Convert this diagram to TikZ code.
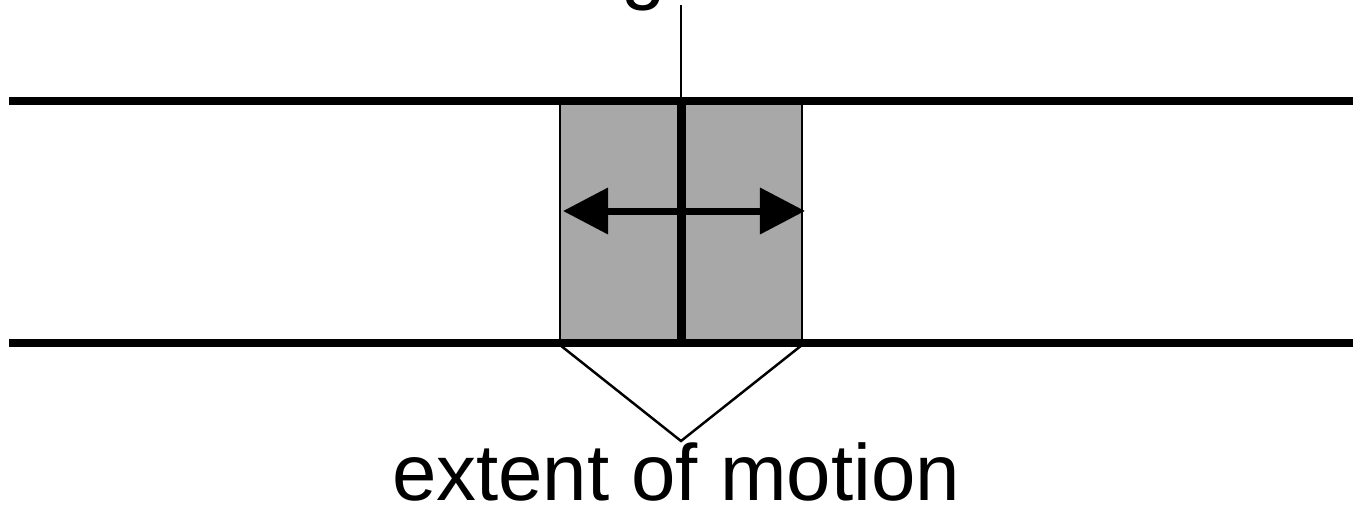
\documentclass[tikz,border=0pt]{standalone}
\usepackage{fontspec}
\setmainfont{Liberation Sans}
\usetikzlibrary{arrows.meta}
\definecolor{slidegray}{RGB}{168, 168, 168}

\begin{document}
\begin{tikzpicture}[
    x=0.01cm, y=-0.01cm,
    rail/.style={line width=0.08cm, line cap=butt},
    slider/.style={draw=black, line width=0.6pt, fill=slidegray},
    stem/.style={line width=0.09cm},
    thin/.style={line width=0.7pt},
    motion/.style={{Triangle[length=0.45cm,width=0.45cm]}-{Triangle[length=0.45cm,width=0.45cm]}, line width=0.07cm},
    label/.style={font=\fontsize{22.7pt}{27pt}\selectfont, inner sep=0pt}
  ]
    \useasboundingbox (0,0) rectangle (1361,512);

    % block between the rails
    \node[slider, minimum width=2.42cm, minimum height=2.43cm, inner sep=0pt] (block) at (681,221.5) {};
    \coordinate (stemtop) at (681,100);
    \coordinate (stembot) at (681,343);

    % rails
    \draw[rail] (9,101) coordinate (railAw) -- (1353,101) coordinate (railAe);
    \draw[rail] (9,343) coordinate (railBw) -- (1353,343) coordinate (railBe);

    \draw[stem] (stemtop) -- (stembot);
    \coordinate (leadtop) at (681,5);
    \draw[thin] (leadtop) -- (stemtop);

    % range of travel
    \coordinate (leftend) at (563,211);
    \coordinate (rightend) at (805,211);
    \draw[motion] (leftend) -- (rightend);

    \coordinate (apex) at (681,441);
    \draw[thin] (block.south west) -- (apex) -- (block.south east);

    \node[label, anchor=base] (extent) at (676,500) {extent of motion};
    \node[label, anchor=base] (toplabel) at (644,-5) {g};
  \end{tikzpicture}
\end{document}
